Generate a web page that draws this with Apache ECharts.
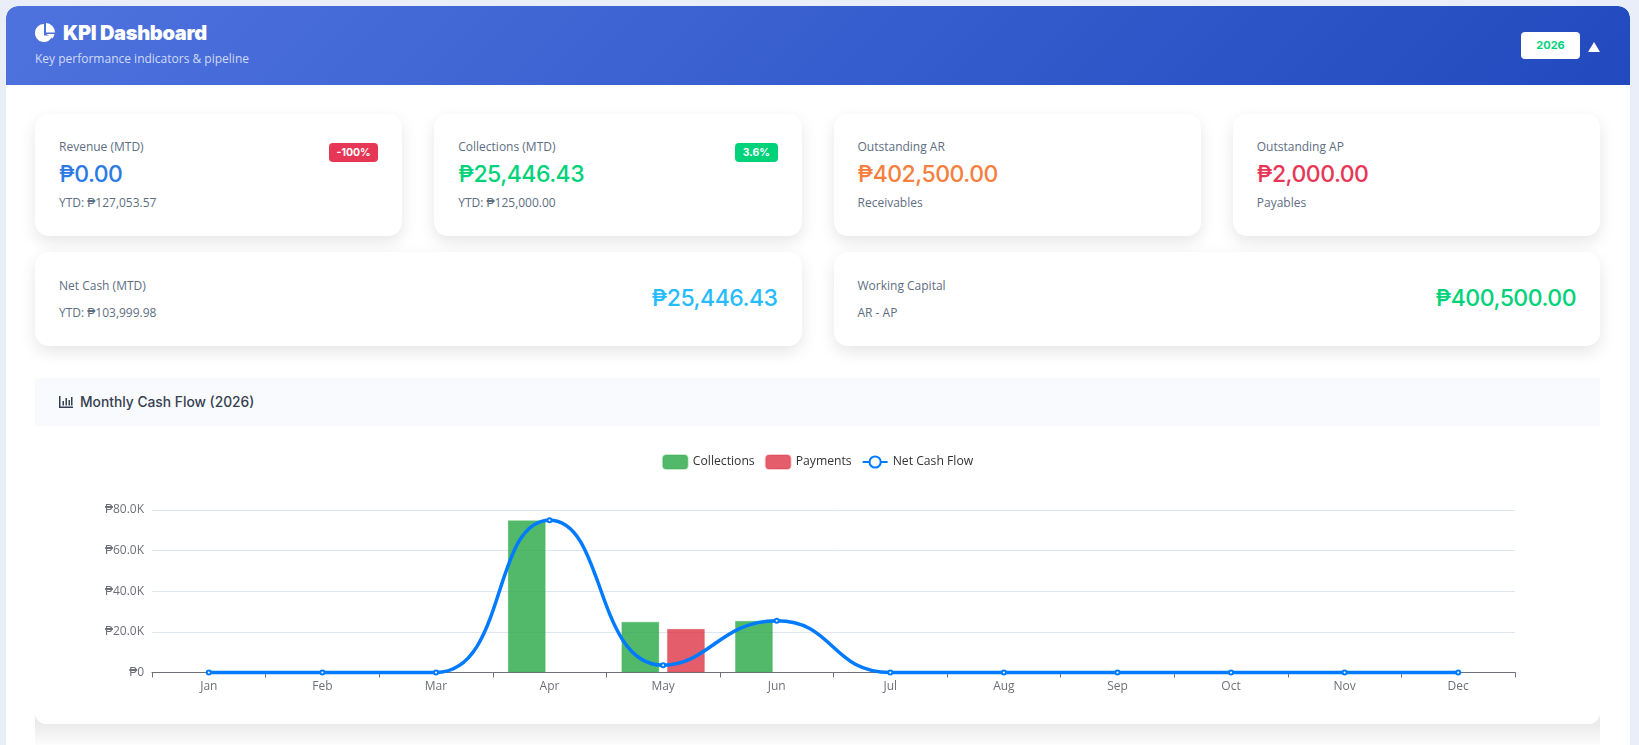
<!DOCTYPE html>
<html>
<head>
<meta charset="utf-8">
<title>KPI Dashboard</title>
<script src="https://cdn.jsdelivr.net/npm/echarts@6/dist/echarts.min.js"></script>
<style>
  * { box-sizing: border-box; }
  html, body { margin: 0; height: 745px; overflow: hidden; background: #e9eef8; }
  body { font-family: "Open Sans", sans-serif; color: #5e6e82; font-size: 12px; }
  .panel { position: absolute; left: 6px; top: 6px; width: 1624px; height: 739px; background: #fff; border-radius: 12px 12px 0 0; overflow: hidden; isolation: isolate; }
  .head { height: 79px; border-radius: 12px 12px 0 0; background: linear-gradient(135deg, #4e73df, #224abe); position: relative; color: #fff; }
  .head h1 { position: absolute; left: 29px; top: 16px; margin: 0; font: 900 20px/22px Inter, sans-serif; display: flex; align-items: center; letter-spacing: -0.3px; }
  .head h1 svg { width: 20px; height: 20px; margin-right: 8px; fill: #fff; }
  .head p { position: absolute; left: 29px; top: 44px; margin: 0; font-size: 12px; line-height: 18px; color: rgba(255,255,255,.75); }
  .year { position: absolute; left: 1515px; top: 26px; width: 59px; height: 27px; background: #fff; border-radius: 4px; color: #00d27a; font: 700 11px/27px Inter, sans-serif; text-align: center; }
  .arrow { position: absolute; left: 1582px; top: 36px; width: 12px; height: 10px; }
  .cards { position: absolute; left: 29px; top: 108px; width: 1565px; display: grid; grid-template-columns: repeat(4, 1fr); grid-template-rows: 122px 94px; gap: 16px 32px; }
  .card { background: #fff; border-radius: 14px; padding: 24px; position: relative; box-shadow: 0 6px 16px rgba(0,0,0,.1); }
  .wide { grid-column: span 2; }
  .label, .sub { line-height: 18px; }
  .value { margin-top: 2px; font: 500 23px/32px Inter, sans-serif; letter-spacing: -0.5px; }
  .sub { margin-top: 4px; }
  .wide { padding-top: 24.500px; }
  .wide .sub { margin-top: 9px; }
  .wide .value { position: absolute; right: 24px; top: 30px; margin: 0; }
  .badge { position: absolute; right: 24px; top: 29px; height: 19px; padding: 0 7.500px; border-radius: 4px; color: #fff; font: 700 10.500px/19px Inter, sans-serif; }
  .section { position: absolute; left: 29px; top: 372px; width: 1565px; height: 346px; background: #fff; border-radius: 0 0 12px 12px; }
  .section::before { content: ""; position: absolute; left: 0; right: 0; top: 330px; height: 40px; background: linear-gradient(#ebebeb, #ebebeb 40%, #fff); z-index: -1; }
  .section h2 { margin: 0; height: 48px; padding-left: 24px; background: #f9fafd; border-radius: 2px 2px 0 0; display: flex; align-items: center; font: 500 13.800px/48px Inter, sans-serif; color: #344050; }
  .section h2 svg { width: 14px; height: 12px; margin-right: 7px; fill: #344050; }
  #chart { width: 1565px; height: 298px; background: #fff; border-radius: 0 0 12px 12px; }
</style>
</head>
<body>
<div class="panel">
  <div class="head">
    <h1><svg viewBox="0 0 20 20"><path d="M9 1a9 9 0 1 0 8.600 11.500H9z"/><path d="M11 0v9.500h9A9.500 9.500 0 0 0 11 0z"/><path d="M11.500 11h8a9 9 0 0 1-2 4.500z"/></svg>KPI Dashboard</h1>
    <p>Key performance indicators &amp; pipeline</p>
    <div class="year">2026</div>
    <svg class="arrow" viewBox="0 0 12 10"><path d="M6 0l6 10H0z" fill="#fff"/></svg>
  </div>
  <div class="cards">
    <div class="card">
      <div class="label">Revenue (MTD)</div>
      <div class="value" style="color:#2c7be5">₱0.00</div>
      <div class="sub">YTD: ₱127,053.57</div>
      <div class="badge" style="background:#e63757">-100%</div>
    </div>
    <div class="card">
      <div class="label">Collections (MTD)</div>
      <div class="value" style="color:#00d27a">₱25,446.43</div>
      <div class="sub">YTD: ₱125,000.00</div>
      <div class="badge" style="background:#00d27a">3.6%</div>
    </div>
    <div class="card">
      <div class="label">Outstanding AR</div>
      <div class="value" style="color:#f5803e">₱402,500.00</div>
      <div class="sub">Receivables</div>
    </div>
    <div class="card">
      <div class="label">Outstanding AP</div>
      <div class="value" style="color:#e63757">₱2,000.00</div>
      <div class="sub">Payables</div>
    </div>
    <div class="card wide">
      <div class="label">Net Cash (MTD)</div>
      <div class="sub">YTD: ₱103,999.98</div>
      <div class="value" style="color:#27bcfd">₱25,446.43</div>
    </div>
    <div class="card wide">
      <div class="label">Working Capital</div>
      <div class="sub">AR - AP</div>
      <div class="value" style="color:#00d27a">₱400,500.00</div>
    </div>
  </div>
  <div class="section">
    <h2><svg viewBox="0 0 14 12"><path d="M0 0h1.500v10.500H14V12H0z"/><path d="M3.500 5H5v4.500H3.500zM6.500 2H8v7.500H6.500zM9.500 4H11v5.500H9.500zM12 1h1.500v8.500H12z"/></svg>Monthly Cash Flow (2026)</h2>
    <div id="chart"></div>
  </div>
</div>
<script>
const months = ['Jan', 'Feb', 'Mar', 'Apr', 'May', 'Jun', 'Jul', 'Aug', 'Sep', 'Oct', 'Nov', 'Dec'];
const collections = [null, null, null, 75000, 25000, 25446.43, null, null, null, null, null, null];
const payments = [null, null, null, null, 21446.45, null, null, null, null, null, null, null];
const netCashFlow = [0, 0, 0, 75000, 3553.55, 25446.43, 0, 0, 0, 0, 0, 0];

const myChart = echarts.init(document.getElementById('chart'));
const option = {
  textStyle: { fontFamily: '"Open Sans", sans-serif' },
  animation: false,
  legend: {
    top: 23,
    itemWidth: 25,
    itemHeight: 14,
    itemGap: 10,
    textStyle: { color: '#333', fontSize: 12.2 },
    data: ['Collections', 'Payments', 'Net Cash Flow']
  },
  grid: { left: 117, right: 85, top: 84, bottom: 51.6, containLabel: false },
  xAxis: {
    type: 'category',
    data: months,
    axisLine: { lineStyle: { color: '#6e7079' } },
    axisTick: { show: true, length: 5, lineStyle: { color: '#6e7079' } },
    axisLabel: { color: '#6e7079', fontSize: 12, margin: 8 }
  },
  yAxis: {
    type: 'value',
    min: 0,
    max: 80000,
    interval: 20000,
    splitLine: { lineStyle: { color: '#e0e6f1' } },
    axisLabel: {
      color: '#6e7079',
      fontSize: 12,
      margin: 8,
      formatter: function (v) {
        return v === 0 ? '₱0' : '₱' + (v / 1000).toFixed(1) + 'K';
      }
    }
  },
  series: [
    {
      name: 'Collections',
      type: 'bar',
      barWidth: 38,
      barGap: '20%',
      data: collections,
      itemStyle: { color: 'rgba(40,167,69,0.8)', borderColor: 'rgba(40,167,69,0.25)', borderWidth: 1 }
    },
    {
      name: 'Payments',
      type: 'bar',
      barWidth: 38,
      data: payments,
      itemStyle: { color: 'rgba(220,53,69,0.8)', borderColor: 'rgba(220,53,69,0.25)', borderWidth: 1 }
    },
    {
      name: 'Net Cash Flow',
      type: 'line',
      smooth: true,
      clip: false,
      data: netCashFlow,
      symbol: 'emptyCircle',
      symbolSize: 4,
      showSymbol: true,
      lineStyle: { color: '#007bff', width: 3.5 },
      itemStyle: { color: '#007bff', borderWidth: 2 }
    }
  ]
};
myChart.setOption(option);
</script>
</body>
</html>
